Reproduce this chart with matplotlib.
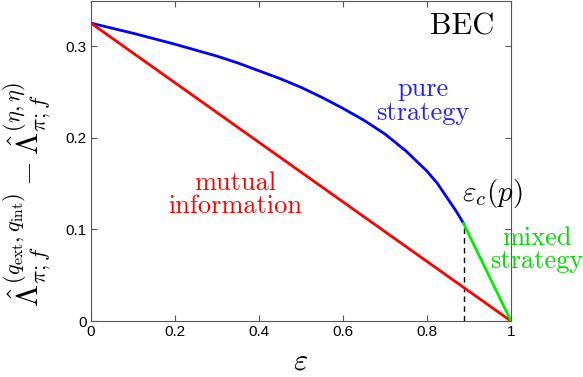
import numpy as np
import matplotlib
matplotlib.use('Agg')
import matplotlib.pyplot as plt

# --- data ---
eps_c = 0.887
pure_x = [0.0, 0.05, 0.1, 0.15, 0.2, 0.25, 0.3, 0.35, 0.4, 0.45, 0.5, 0.55, 0.6,
          0.65, 0.7, 0.75, 0.8, 0.825, 0.85, 0.87, 0.887]
pure_y = [0.325, 0.3195, 0.314, 0.308, 0.302, 0.2955, 0.289, 0.2815, 0.273, 0.2645, 0.255, 0.244, 0.232,
          0.219, 0.204, 0.1855, 0.1635, 0.150, 0.133, 0.1195, 0.1065]
mutual_x = [0.0, 1.0]
mutual_y = [0.325, 0.0]
mixed_x = [eps_c, 1.0]
mixed_y = [0.1065, 0.0]
xticks = [0, 0.2, 0.4, 0.6, 0.8, 1]
xticklabels = ['0', '0.2', '0.4', '0.6', '0.8', '1']
yticks = [0, 0.1, 0.2, 0.3]
yticklabels = ['0', '0.1', '0.2', '0.3']

plt.rcParams['mathtext.fontset'] = 'cm'

fig = plt.figure(figsize=(5.83, 3.77), dpi=100)
ax = fig.add_axes([0.156, 0.1485, 0.7205, 0.8485])

ax.plot(pure_x, pure_y, color='#0000ff', lw=2.0, zorder=3, solid_joinstyle='round')
ax.plot(mutual_x, mutual_y, color='#ff0000', lw=2.0, zorder=3)
ax.plot(mixed_x, mixed_y, color='#00ee00', lw=2.0, zorder=3)
ax.plot([eps_c, eps_c], [0, mixed_y[0]], color='black', lw=1.0, ls=(0, (4, 3)), zorder=2)

ax.set_xlim(0, 1)
ax.set_ylim(0, 0.349)
ax.set_xticks(xticks)
ax.set_xticklabels(xticklabels, fontfamily='Liberation Sans', fontsize=11)
ax.set_yticks(yticks)
ax.set_yticklabels(yticklabels, fontfamily='Liberation Sans', fontsize=11)
ax.tick_params(direction='in', top=True, right=True, length=4, color='#555555', pad=3)
for sp in ax.spines.values():
    sp.set_color('#555555')
    sp.set_linewidth(0.8)

ax.set_xlabel(r'$\varepsilon$', fontsize=22, labelpad=5)
ax.set_ylabel(r'$\hat{\Lambda}_{\pi;f}^{(q_{\rm ext},q_{\rm int})} - \hat{\Lambda}_{\pi;f}^{(\eta,\eta)}$',
              fontsize=23)
ax.yaxis.set_label_coords(-0.09, 0.395)

tkw = dict(family='cmr10', ha='center', va='center', linespacing=1.0)
ax.text(0.883, 0.321, 'BEC', fontsize=22, color='black', **tkw)
ax.text(0.79, 0.24, 'pure\nstrategy', fontsize=19, color='#2222ff', **tkw)
ax.text(0.343, 0.138, 'mutual\ninformation', fontsize=19, color='#ff0000', **tkw)
ax.text(1.062, 0.078, 'mixed\nstrategy', fontsize=19, color='#00dd00', clip_on=False, **tkw)
ax.text(0.955, 0.139, r'$\varepsilon_c(p)$', fontsize=21, ha='center', va='center')

fig.savefig('out.png', dpi=100)
